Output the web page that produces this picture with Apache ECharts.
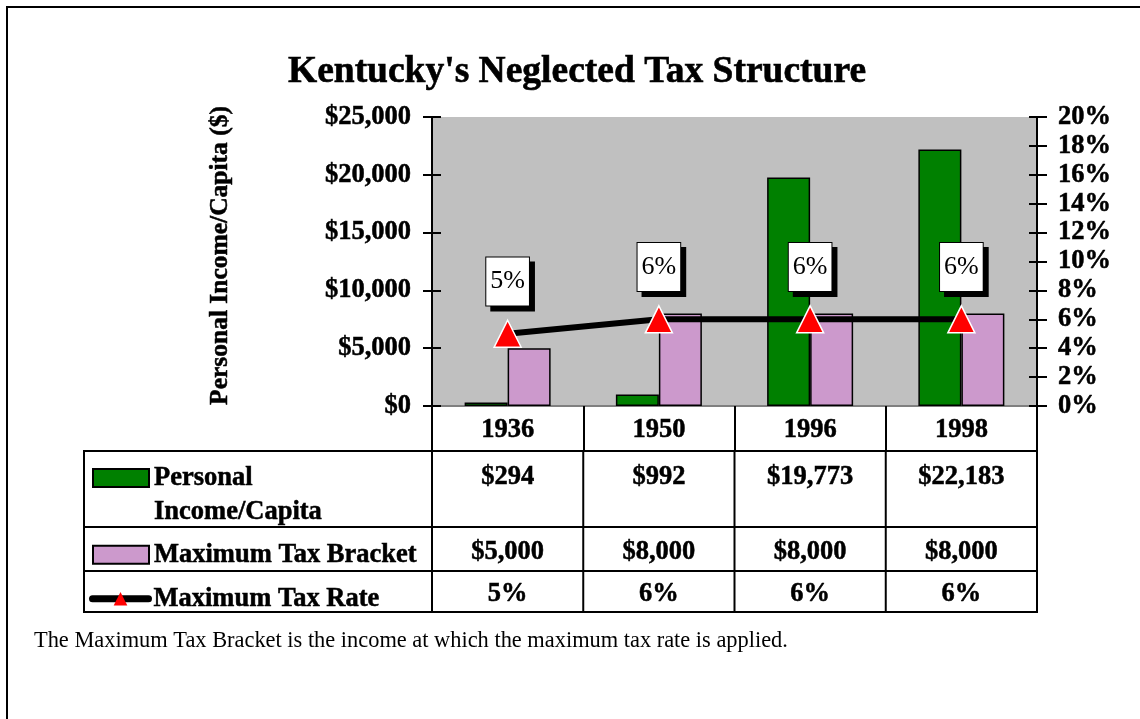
<!DOCTYPE html>
<html>
<head>
<meta charset="utf-8">
<title>Kentucky's Neglected Tax Structure</title>
<script src="https://cdn.jsdelivr.net/npm/echarts@6/dist/echarts.min.js"></script>
<style>
  html, body { margin: 0; padding: 0; background: #ffffff; }
  #chart { width: 1140px; height: 719px; }
</style>
</head>
<body>
<div id="chart"></div>
<script>
// ---- data ----
const years = ['1936', '1950', '1996', '1998'];
const incomePerCapita = [294, 992, 19773, 22183];   // Personal Income/Capita ($)
const maxTaxBracket = [5000, 8000, 8000, 8000];     // Maximum Tax Bracket ($)
const maxTaxRate = [5, 6, 6, 6];                    // Maximum Tax Rate (%)

const seriesNames = ['Personal Income/Capita', 'Maximum Tax Bracket', 'Maximum Tax Rate'];
const incomeAxis = { min: 0, max: 25000, step: 5000 };
const rateAxis = { min: 0, max: 20, step: 2 };
const footnote = 'The Maximum Tax Bracket is the income at which the maximum tax rate is applied.';

// ---- style ----
const SERIF = '"Liberation Serif", "Times New Roman", Times, serif';
const GREEN = '#008000';
const PINK = '#CC99CC';
const PLOT_BG = '#C0C0C0';
const BOLD = {
  fontFamily: SERIF, fontWeight: 'bold', fontSize: 26.5, color: '#000',
  textBorderColor: '#000', textBorderWidth: 0.5
};

const money = v => '$' + v.toLocaleString('en-US');
const pct = v => v + '%';

// table rows (below the year header); y positions of row borders
const TABLE_LEFT = 84;
const ROW_EDGES = [451, 527, 571, 612];

const chart = echarts.init(document.getElementById('chart'), null, { renderer: 'canvas' });

const GRID = { left: 432, top: 117, width: 605, height: 289 };

function legendFor(name, left, top, extra) {
  return Object.assign({
    data: [name],
    orient: 'vertical',
    left: left,
    top: top,
    padding: 0,
    itemWidth: 56,
    itemHeight: 18,
    selectedMode: false,
    textStyle: Object.assign({}, BOLD)
  }, extra || {});
}

const option = {
  animation: false,
  backgroundColor: '#ffffff',
  title: {
    text: "Kentucky's Neglected Tax Structure",
    left: 572,
    top: 48,
    textAlign: 'center',
    textStyle: {
      fontFamily: SERIF, fontWeight: 'bold', fontSize: 37.5, color: '#000',
      textBorderColor: '#000', textBorderWidth: 0.6
    }
  },
  legend: [
    // the swatch sits beside the first of the two text lines
    legendFor(seriesNames[0], 92, 427, {
      icon: 'rect',
      formatter: () => ' \nPersonal\nIncome/Capita',
      textStyle: Object.assign({}, BOLD, { lineHeight: 34 })
    }),
    legendFor(seriesNames[1], 92, 541, { icon: 'rect' }),
    legendFor(seriesNames[2], 89, 585, {
      itemHeight: 17,
      lineStyle: { width: 7, cap: 'round', color: '#000' },
      itemStyle: { color: '#FF0000', borderWidth: 0 }
    })
  ],
  grid: Object.assign({
    show: true,
    backgroundColor: PLOT_BG,
    borderWidth: 0,
    containLabel: false
  }, GRID),
  xAxis: [
    {
      type: 'category',
      data: years,
      position: 'bottom',
      boundaryGap: true,
      axisLine: { lineStyle: { color: '#000', width: 2 } },
      axisTick: { show: true, length: 45, lineStyle: { color: '#000', width: 2 } },
      axisLabel: Object.assign({ margin: 11 }, BOLD)
    },
    {
      // grey rule along the top edge of the plot area
      type: 'category',
      data: years,
      position: 'top',
      axisLine: { lineStyle: { color: '#808080', width: 2 } },
      axisTick: { show: false },
      axisLabel: { show: false }
    }
  ],
  yAxis: [
    {
      type: 'value',
      position: 'left',
      min: incomeAxis.min, max: incomeAxis.max, interval: incomeAxis.step,
      name: 'Personal Income/Capita ($)',
      nameLocation: 'middle',
      nameRotate: 90,
      nameGap: 199,
      nameTextStyle: Object.assign({}, BOLD, { fontSize: 25.5, padding: [0, 0, 0, 12] }),
      axisLine: { show: true, lineStyle: { color: '#000', width: 2 } },
      axisTick: { show: true, length: 9, lineStyle: { color: '#000', width: 2 } },
      splitLine: { show: false },
      axisLabel: Object.assign({ margin: 21, formatter: money }, BOLD)
    },
    {
      // inner half of the crossing tick marks on the left axis
      type: 'value',
      position: 'left',
      min: incomeAxis.min, max: incomeAxis.max, interval: incomeAxis.step,
      axisLine: { show: true, lineStyle: { color: '#000', width: 2 } },
      axisTick: { show: true, inside: true, length: 9, lineStyle: { color: '#000', width: 2 } },
      splitLine: { show: false },
      axisLabel: { show: false }
    },
    {
      type: 'value',
      position: 'right',
      min: rateAxis.min, max: rateAxis.max, interval: rateAxis.step,
      axisLine: { show: true, lineStyle: { color: '#000', width: 2 } },
      axisTick: { show: true, length: 10, lineStyle: { color: '#000', width: 2 } },
      splitLine: { show: false },
      axisLabel: Object.assign({ margin: 21, formatter: pct }, BOLD)
    },
    {
      type: 'value',
      position: 'right',
      min: rateAxis.min, max: rateAxis.max, interval: rateAxis.step,
      axisLine: { show: true, lineStyle: { color: '#000', width: 2 } },
      axisTick: { show: true, inside: true, length: 8, lineStyle: { color: '#000', width: 2 } },
      splitLine: { show: false },
      axisLabel: { show: false }
    }
  ],
  series: [
    {
      name: seriesNames[0],
      type: 'bar',
      data: incomePerCapita,
      barWidth: 43,
      barGap: '0%',
      itemStyle: { color: GREEN, borderColor: '#000', borderWidth: 1.5 },
      z: 2
    },
    {
      name: seriesNames[1],
      type: 'bar',
      data: maxTaxBracket,
      barWidth: 43,
      barGap: '0%',
      itemStyle: { color: PINK, borderColor: '#000', borderWidth: 1.5 },
      z: 2
    },
    {
      name: seriesNames[2],
      type: 'line',
      yAxisIndex: 2,
      data: maxTaxRate,
      symbol: 'triangle',
      symbolSize: 27,
      showAllSymbol: true,
      lineStyle: { color: '#000', width: 6 },
      itemStyle: { color: '#FF0000', borderColor: '#ffffff', borderWidth: 1.5 },
      z: 5,
      label: {
        show: true,
        position: 'top',
        distance: 14,
        formatter: p => pct(p.value),
        fontFamily: SERIF,
        fontSize: 26,
        lineHeight: 28,
        color: '#000',
        backgroundColor: '#ffffff',
        borderColor: '#000',
        borderWidth: 1,
        padding: [10, 4, 10, 4],
        shadowColor: '#000',
        shadowBlur: 0,
        shadowOffsetX: 5,
        shadowOffsetY: 5
      }
    }
  ]
};

chart.setOption(option);

// ---- data table under the plot, aligned to the category bands ----
const centers = years.map((_, i) => chart.convertToPixel({ xAxisIndex: 0 }, i));
const band = centers[1] - centers[0];
const colEdges = centers.map(c => c - band / 2).concat([centers[centers.length - 1] + band / 2]);
const tableRight = colEdges[colEdges.length - 1];
const LINE = { stroke: '#000', lineWidth: 2 };

const tableGraphics = [];
// outer frame of the page
tableGraphics.push({
  type: 'rect', silent: true,
  shape: { x: 7, y: 7, width: 1200, height: 800 },
  style: { fill: null, stroke: '#000', lineWidth: 2 }
});
// table outline and row rules
tableGraphics.push({
  type: 'rect', silent: true,
  shape: { x: TABLE_LEFT, y: ROW_EDGES[0], width: tableRight - TABLE_LEFT, height: ROW_EDGES[3] - ROW_EDGES[0] },
  style: Object.assign({ fill: null }, LINE)
});
ROW_EDGES.slice(1, 3).forEach(y => tableGraphics.push({
  type: 'line', silent: true,
  shape: { x1: TABLE_LEFT, y1: y, x2: tableRight, y2: y },
  style: LINE
}));
colEdges.slice(0, colEdges.length - 1).forEach(x => tableGraphics.push({
  type: 'line', silent: true,
  shape: { x1: x, y1: ROW_EDGES[0], x2: x, y2: ROW_EDGES[3] },
  style: LINE
}));
// cell values
const rows = [
  { values: incomePerCapita.map(money), y: 477 },
  { values: maxTaxBracket.map(money), y: 552 },
  { values: maxTaxRate.map(pct), y: 594 }
];
rows.forEach(row => row.values.forEach((txt, i) => tableGraphics.push({
  type: 'text', silent: true,
  x: centers[i], y: row.y,
  style: {
    text: txt, align: 'center', verticalAlign: 'middle',
    font: 'bold 26.5px ' + SERIF, fill: '#000',
    stroke: '#000', lineWidth: 0.5
  }
})));
// note under the table
tableGraphics.push({
  type: 'text', silent: true,
  x: 34, y: 641,
  style: {
    text: footnote, align: 'left', verticalAlign: 'middle',
    font: '22.4px ' + SERIF, fill: '#000'
  }
});

chart.setOption({ graphic: tableGraphics });
</script>
</body>
</html>
